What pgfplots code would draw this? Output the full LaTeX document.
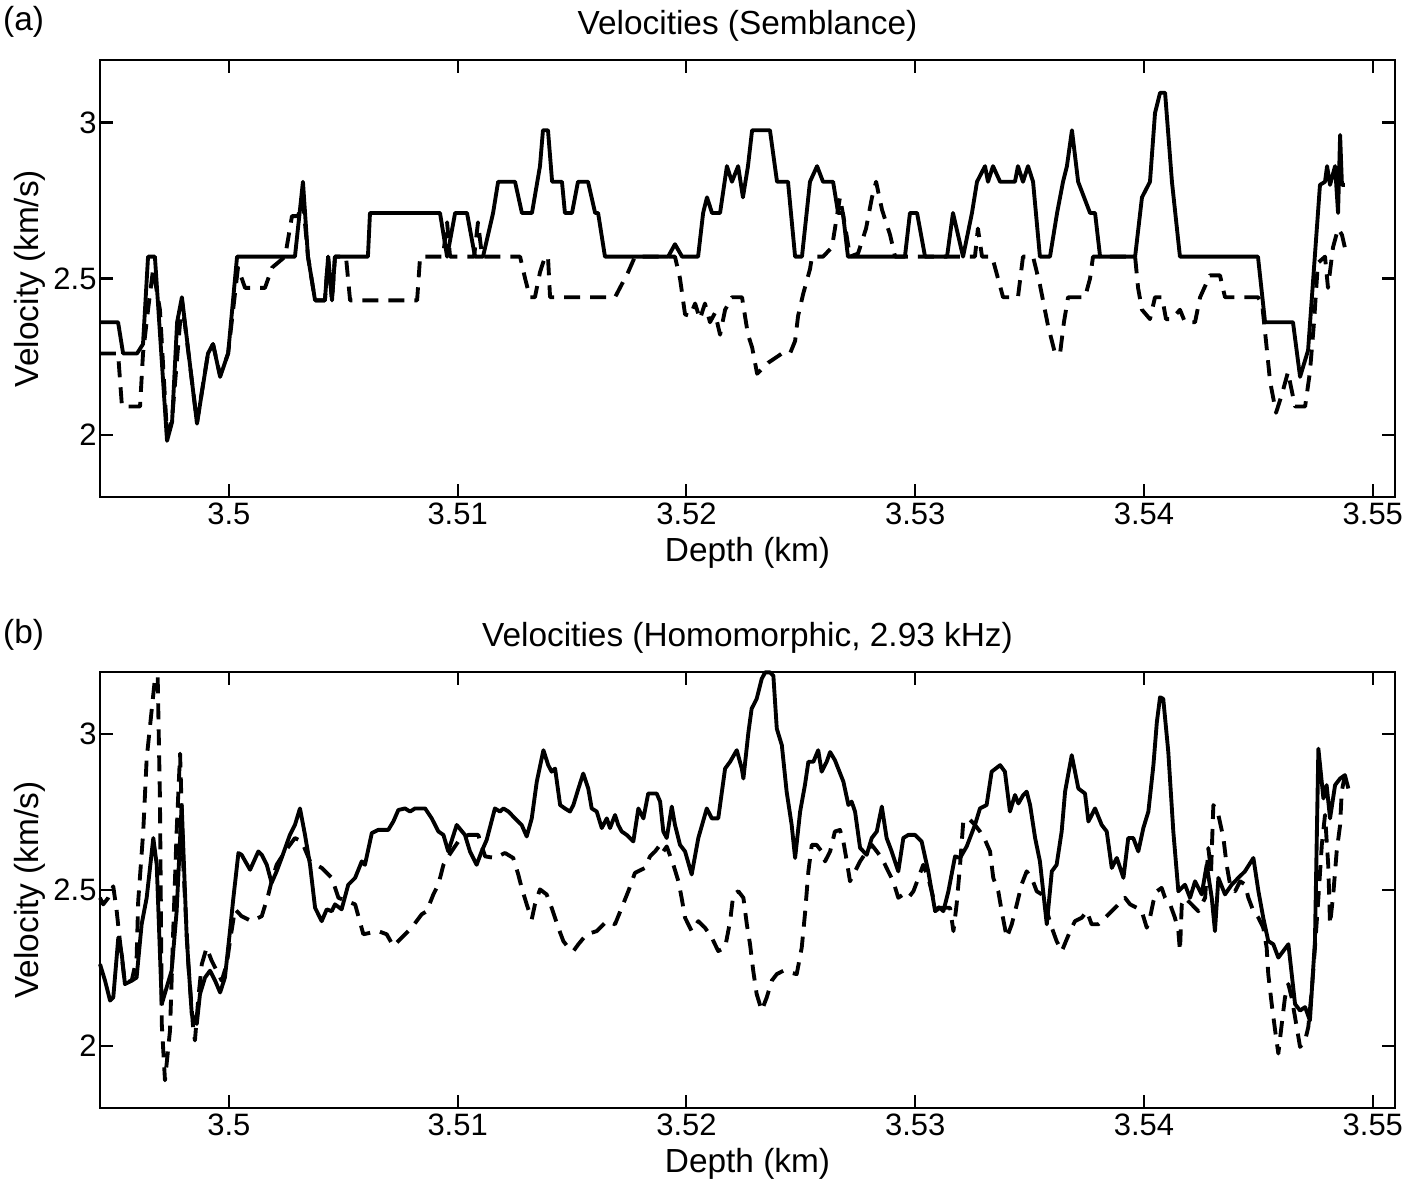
\documentclass[border=0pt]{standalone}
\usepackage{fontspec}
\setmainfont{Liberation Sans}
\usepackage{pgfplots}
\pgfplotsset{compat=1.18}
\begin{document}
\begin{tikzpicture}
\useasboundingbox (0,0) rectangle (14.15cm,-11.91cm);
\pgfplotsset{
  panel/.style={
    scale only axis, width=12.95cm, height=4.37cm, clip=false,
    xmin=3.49437, xmax=3.55097, ymin=1.8, ymax=3.2,
    xtick={3.5,3.51,3.52,3.53,3.54,3.55},
    ytick={2,2.5,3},
    tick align=inside, major tick length=1.3mm,
    axis line style={line width=0.6pt},
    every tick/.style={line width=0.6pt, black},
    xticklabel style={font=\fontsize{8.8}{10}\selectfont, inner ysep=1.5pt,
      /pgf/number format/.cd, fixed, precision=2, assume math mode=true},
    yticklabel style={font=\fontsize{8.8}{10}\selectfont, inner xsep=0.8pt,
      /pgf/number format/.cd, fixed, precision=2, assume math mode=true},
    scaled x ticks=false, scaled y ticks=false,
    xlabel={Depth (km)}, ylabel={Velocity (km/s)},
    label style={font=\fontsize{9.5}{11}\selectfont},
    xlabel style={at={(axis description cs:0.5,-0.127)}, anchor=center},
    ylabel style={at={(axis description cs:-0.054,0.5)}, anchor=center},
    title style={font=\fontsize{9.5}{11}\selectfont, at={(axis description cs:0.5,1)}, anchor=center, yshift=1.3mm},
  },
  solidc/.style={black, mark=none, line width=1.1pt, line join=round},
  dashc/.style={black, mark=none, line width=1.1pt, line join=round, dash pattern=on 1.6mm off 1mm},
}
\begin{axis}[panel, at={(1.00cm,-0.60cm)}, anchor=north west, title={Velocities (Semblance)}]
\addplot[solidc] coordinates {
(3.49437,2.36) (3.49516,2.36) (3.49538,2.26) (3.49599,2.26) (3.49625,2.29) (3.49647,2.57)
(3.49677,2.57) (3.49730,1.98) (3.49752,2.04) (3.49774,2.36) (3.49795,2.44) (3.49861,2.035)
(3.49909,2.26) (3.49931,2.29) (3.49962,2.185) (3.49997,2.26) (3.50036,2.57) (3.50289,2.57)
(3.50324,2.81) (3.50346,2.57) (3.50377,2.43) (3.50420,2.43) (3.50434,2.57) (3.50451,2.43)
(3.50464,2.57) (3.50608,2.57) (3.50617,2.71) (3.50923,2.71) (3.50954,2.57) (3.50989,2.71)
(3.51041,2.71) (3.51076,2.57) (3.51111,2.57) (3.51155,2.71) (3.51177,2.81) (3.51251,2.81)
(3.51281,2.71) (3.51325,2.71) (3.51360,2.86) (3.51373,2.975) (3.51395,2.975) (3.51413,2.81)
(3.51456,2.81) (3.51469,2.71) (3.51500,2.71) (3.51526,2.81) (3.51570,2.81) (3.51601,2.71)
(3.51614,2.71) (3.51644,2.57) (3.51920,2.57) (3.51950,2.61) (3.51981,2.57) (3.52051,2.57)
(3.52073,2.71) (3.52090,2.76) (3.52112,2.71) (3.52147,2.71) (3.52177,2.86) (3.52199,2.81)
(3.52226,2.86) (3.52247,2.76) (3.52269,2.86) (3.52287,2.975) (3.52365,2.975) (3.52396,2.81)
(3.52444,2.81) (3.52475,2.57) (3.52505,2.57) (3.52540,2.81) (3.52571,2.86) (3.52597,2.81)
(3.52641,2.81) (3.52663,2.71) (3.52684,2.71) (3.52706,2.57) (3.52955,2.57) (3.52977,2.71)
(3.53008,2.71) (3.53043,2.57) (3.53139,2.57) (3.53165,2.71) (3.53209,2.57) (3.53248,2.71)
(3.53270,2.81) (3.53305,2.86) (3.53318,2.81) (3.53340,2.86) (3.53371,2.81) (3.53436,2.81)
(3.53449,2.86) (3.53471,2.81) (3.53493,2.86) (3.53515,2.81) (3.53545,2.57) (3.53589,2.57)
(3.53620,2.71) (3.53646,2.81) (3.53663,2.86) (3.53685,2.975) (3.53712,2.81) (3.53764,2.71)
(3.53786,2.71) (3.53808,2.57) (3.53961,2.57) (3.53991,2.76) (3.54026,2.81) (3.54048,3.03)
(3.54070,3.095) (3.54092,3.095) (3.54122,2.81) (3.54157,2.57) (3.54498,2.57) (3.54529,2.36)
(3.54651,2.36) (3.54682,2.185) (3.54717,2.27) (3.54769,2.80) (3.54791,2.81) (3.54800,2.86)
(3.54813,2.80) (3.54835,2.86) (3.54848,2.71) (3.54857,2.96) (3.54865,2.80) (3.54878,2.80)
};
\addplot[dashc] coordinates {
(3.49437,2.26) (3.49516,2.26) (3.49533,2.09) (3.49559,2.09) (3.49612,2.09) (3.49625,2.26)
(3.49647,2.40) (3.49669,2.53) (3.49699,2.40) (3.49730,2.00) (3.49752,2.05) (3.49795,2.43)
(3.49861,2.04) (3.49909,2.26) (3.49931,2.29) (3.49962,2.19) (3.49997,2.26) (3.50040,2.535)
(3.50071,2.47) (3.50158,2.47) (3.50189,2.535) (3.50246,2.57) (3.50276,2.70) (3.50302,2.70)
(3.50324,2.75) (3.50346,2.57) (3.50377,2.43) (3.50420,2.43) (3.50434,2.57) (3.50451,2.43)
(3.50464,2.57) (3.50512,2.57) (3.50530,2.43) (3.50823,2.43) (3.50836,2.57) (3.50936,2.57)
(3.50954,2.68) (3.50967,2.57) (3.51072,2.57) (3.51089,2.68) (3.51107,2.57) (3.51273,2.57)
(3.51295,2.50) (3.51316,2.44) (3.51338,2.44) (3.51360,2.52) (3.51382,2.57) (3.51395,2.57)
(3.51404,2.44) (3.51688,2.44) (3.51745,2.52) (3.51775,2.57) (3.51950,2.57) (3.51972,2.50)
(3.51994,2.385) (3.52016,2.38) (3.52038,2.42) (3.52059,2.37) (3.52081,2.42) (3.52103,2.36)
(3.52125,2.39) (3.52147,2.32) (3.52169,2.40) (3.52199,2.44) (3.52243,2.44) (3.52269,2.32)
(3.52287,2.28) (3.52309,2.195) (3.52357,2.23) (3.52418,2.26) (3.52453,2.26) (3.52475,2.30)
(3.52488,2.38) (3.52510,2.45) (3.52540,2.53) (3.52549,2.57) (3.52597,2.57) (3.52636,2.60)
(3.52671,2.76) (3.52693,2.67) (3.52715,2.57) (3.52750,2.58) (3.52785,2.66) (3.52811,2.76)
(3.52829,2.81) (3.52855,2.72) (3.52890,2.64) (3.52912,2.57) (3.53261,2.57) (3.53274,2.66)
(3.53292,2.57) (3.53336,2.57) (3.53384,2.44) (3.53449,2.44) (3.53471,2.57) (3.53515,2.57)
(3.53545,2.48) (3.53580,2.35) (3.53611,2.26) (3.53633,2.26) (3.53650,2.36) (3.53668,2.44)
(3.53742,2.44) (3.53764,2.50) (3.53777,2.57) (3.53961,2.57) (3.53974,2.47) (3.53991,2.40)
(3.54026,2.37) (3.54048,2.44) (3.54079,2.44) (3.54096,2.37) (3.54122,2.37) (3.54157,2.40)
(3.54179,2.36) (3.54223,2.36) (3.54245,2.44) (3.54288,2.51) (3.54332,2.51) (3.54354,2.44)
(3.54498,2.44) (3.54516,2.42) (3.54533,2.30) (3.54551,2.17) (3.54577,2.07) (3.54603,2.13)
(3.54629,2.20) (3.54660,2.09) (3.54704,2.09) (3.54725,2.20) (3.54743,2.36) (3.54760,2.55)
(3.54791,2.57) (3.54804,2.47) (3.54826,2.60) (3.54848,2.66) (3.54865,2.64) (3.54887,2.57)
};
\node[font=\fontsize{9.5}{11}\selectfont] at (axis description cs:-0.059,1.087) {(a)};
\end{axis}
\begin{axis}[panel, at={(1.00cm,-6.72cm)}, anchor=north west, height=4.36cm, title={Velocities (Homomorphic, 2.93 kHz)}]
\addplot[solidc] coordinates {
(3.49437,2.262) (3.49459,2.209) (3.49481,2.145) (3.49495,2.155) (3.49517,2.347) (3.49532,2.294)
(3.49546,2.198) (3.49576,2.209) (3.49597,2.219) (3.49619,2.390) (3.49641,2.475) (3.49670,2.667)
(3.49685,2.581) (3.49707,2.134) (3.49750,2.241) (3.49772,2.432) (3.49794,2.773) (3.49816,2.347)
(3.49838,2.102) (3.49860,2.070) (3.49874,2.166) (3.49896,2.219) (3.49918,2.241) (3.49940,2.209)
(3.49962,2.171) (3.49983,2.219) (3.50005,2.368) (3.50020,2.475) (3.50042,2.619) (3.50056,2.613)
(3.50093,2.565) (3.50129,2.624) (3.50144,2.613) (3.50166,2.581) (3.50187,2.523) (3.50209,2.560)
(3.50231,2.603) (3.50267,2.677) (3.50289,2.709) (3.50311,2.762) (3.50333,2.677) (3.50355,2.581)
(3.50377,2.443) (3.50406,2.400) (3.50428,2.438) (3.50450,2.432) (3.50464,2.454) (3.50493,2.438)
(3.50522,2.517) (3.50552,2.539) (3.50581,2.592) (3.50595,2.581) (3.50625,2.683) (3.50653,2.693)
(3.50697,2.693) (3.50719,2.720) (3.50741,2.757) (3.50770,2.762) (3.50792,2.752) (3.50814,2.762)
(3.50858,2.762) (3.50887,2.730) (3.50916,2.688) (3.50938,2.677) (3.50959,2.624) (3.50996,2.709)
(3.51032,2.677) (3.51054,2.624) (3.51083,2.581) (3.51105,2.624) (3.51127,2.661) (3.51163,2.762)
(3.51185,2.752) (3.51200,2.762) (3.51222,2.752) (3.51251,2.730) (3.51280,2.709) (3.51302,2.672)
(3.51324,2.730) (3.51346,2.848) (3.51375,2.949) (3.51396,2.901) (3.51411,2.880) (3.51426,2.890)
(3.51448,2.773) (3.51469,2.762) (3.51491,2.752) (3.51506,2.773) (3.51528,2.826) (3.51549,2.874)
(3.51571,2.826) (3.51586,2.762) (3.51608,2.752) (3.51630,2.699) (3.51652,2.730) (3.51666,2.699)
(3.51688,2.741) (3.51702,2.709) (3.51717,2.688) (3.51739,2.677) (3.51768,2.656) (3.51790,2.762)
(3.51812,2.730) (3.51833,2.810) (3.51870,2.810) (3.51885,2.784) (3.51899,2.688) (3.51914,2.667)
(3.51936,2.768) (3.51950,2.709) (3.51972,2.645) (3.51994,2.624) (3.52023,2.550) (3.52052,2.667)
(3.52089,2.762) (3.52111,2.730) (3.52139,2.730) (3.52169,2.890) (3.52191,2.912) (3.52220,2.949)
(3.52242,2.890) (3.52249,2.858) (3.52271,3.007) (3.52285,3.082) (3.52307,3.114) (3.52329,3.178)
(3.52344,3.199) (3.52365,3.199) (3.52380,3.188) (3.52395,3.018) (3.52417,2.965) (3.52438,2.816)
(3.52460,2.709) (3.52475,2.603) (3.52497,2.752) (3.52518,2.837) (3.52533,2.912) (3.52555,2.912)
(3.52576,2.949) (3.52591,2.880) (3.52613,2.912) (3.52628,2.943) (3.52649,2.917) (3.52686,2.848)
(3.52708,2.773) (3.52722,2.784) (3.52737,2.752) (3.52759,2.635) (3.52788,2.613) (3.52810,2.667)
(3.52832,2.688) (3.52854,2.768) (3.52875,2.667) (3.52897,2.624) (3.52926,2.560) (3.52948,2.667)
(3.52970,2.677) (3.52999,2.677) (3.53028,2.656) (3.53057,2.560) (3.53087,2.432) (3.53108,2.443)
(3.53123,2.432) (3.53145,2.496) (3.53174,2.608) (3.53196,2.603) (3.53225,2.640) (3.53261,2.709)
(3.53283,2.762) (3.53312,2.773) (3.53334,2.880) (3.53371,2.901) (3.53392,2.880) (3.53414,2.752)
(3.53436,2.805) (3.53451,2.778) (3.53472,2.805) (3.53487,2.816) (3.53502,2.773) (3.53524,2.667)
(3.53545,2.592) (3.53575,2.390) (3.53597,2.560) (3.53618,2.581) (3.53640,2.688) (3.53655,2.816)
(3.53684,2.933) (3.53713,2.826) (3.53742,2.810) (3.53757,2.720) (3.53786,2.762) (3.53815,2.709)
(3.53837,2.688) (3.53859,2.571) (3.53881,2.603) (3.53910,2.539) (3.53931,2.667) (3.53953,2.667)
(3.53975,2.624) (3.53997,2.699) (3.54019,2.752) (3.54041,2.901) (3.54056,3.039) (3.54070,3.119)
(3.54084,3.114) (3.54106,2.944) (3.54128,2.688) (3.54150,2.496) (3.54179,2.517) (3.54201,2.475)
(3.54223,2.528) (3.54252,2.486) (3.54274,2.581) (3.54296,2.475) (3.54310,2.368) (3.54325,2.539)
(3.54354,2.486) (3.54383,2.517) (3.54412,2.539) (3.54441,2.560) (3.54478,2.603) (3.54500,2.496)
(3.54521,2.411) (3.54543,2.336) (3.54565,2.326) (3.54587,2.283) (3.54631,2.326) (3.54660,2.134)
(3.54682,2.113) (3.54704,2.124) (3.54725,2.081) (3.54747,2.336) (3.54762,2.954) (3.54784,2.794)
(3.54798,2.837) (3.54813,2.730) (3.54835,2.837) (3.54857,2.858) (3.54878,2.869) (3.54893,2.826)
};
\addplot[dashc] coordinates {
(3.49437,2.475) (3.49451,2.454) (3.49473,2.475) (3.49495,2.512) (3.49510,2.432) (3.49524,2.336)
(3.49546,2.20) (3.49576,2.21) (3.49597,2.28) (3.49604,2.464) (3.49626,2.688) (3.49641,2.922)
(3.49656,3.029) (3.49677,3.178) (3.49689,3.188) (3.49699,2.794) (3.49704,2.368) (3.49707,2.070)
(3.49721,1.889) (3.49743,2.049) (3.49757,2.368) (3.49772,2.688) (3.49787,2.938) (3.49801,2.581)
(3.49823,2.262) (3.49845,2.049) (3.49852,2.017) (3.49867,2.155) (3.49882,2.262) (3.49903,2.315)
(3.49925,2.273) (3.49947,2.241) (3.49969,2.209) (3.49991,2.262) (3.50005,2.336) (3.50027,2.438)
(3.50056,2.416) (3.50100,2.400) (3.50144,2.416) (3.50173,2.486) (3.50187,2.528) (3.50209,2.581)
(3.50246,2.624) (3.50289,2.667) (3.50319,2.656) (3.50355,2.592) (3.50406,2.571) (3.50450,2.539)
(3.50479,2.475) (3.50552,2.454) (3.50588,2.358) (3.50653,2.368) (3.50690,2.358) (3.50719,2.320)
(3.50756,2.347) (3.50799,2.379) (3.50843,2.422) (3.50865,2.432) (3.50894,2.486) (3.50916,2.518)
(3.50938,2.581) (3.50959,2.608) (3.51003,2.656) (3.51047,2.677) (3.51090,2.677) (3.51120,2.608)
(3.51163,2.603) (3.51207,2.619) (3.51243,2.603) (3.51265,2.550) (3.51280,2.507) (3.51302,2.454)
(3.51324,2.406) (3.51338,2.454) (3.51360,2.502) (3.51389,2.486) (3.51411,2.443) (3.51440,2.379)
(3.51462,2.336) (3.51484,2.315) (3.51506,2.304) (3.51528,2.326) (3.51564,2.358) (3.51608,2.368)
(3.51652,2.400) (3.51688,2.390) (3.51717,2.443) (3.51746,2.496) (3.51775,2.555) (3.51819,2.571)
(3.51841,2.608) (3.51863,2.624) (3.51885,2.645) (3.51899,2.624) (3.51914,2.640) (3.51943,2.581)
(3.51965,2.528) (3.51979,2.475) (3.51994,2.411) (3.52023,2.368) (3.52052,2.400) (3.52081,2.379)
(3.52111,2.347) (3.52139,2.304) (3.52169,2.315) (3.52191,2.400) (3.52205,2.486) (3.52227,2.496)
(3.52249,2.475) (3.52264,2.390) (3.52278,2.326) (3.52292,2.241) (3.52307,2.166) (3.52329,2.113)
(3.52351,2.155) (3.52373,2.209) (3.52395,2.230) (3.52424,2.241) (3.52453,2.235) (3.52482,2.230)
(3.52504,2.315) (3.52518,2.422) (3.52533,2.560) (3.52548,2.645) (3.52569,2.645) (3.52591,2.624)
(3.52606,2.592) (3.52628,2.624) (3.52649,2.688) (3.52671,2.693) (3.52686,2.656) (3.52701,2.592)
(3.52715,2.528) (3.52737,2.560) (3.52759,2.592) (3.52788,2.624) (3.52810,2.645) (3.52832,2.624)
(3.52854,2.603) (3.52882,2.560) (3.52904,2.528) (3.52926,2.475) (3.52948,2.486) (3.52970,2.475)
(3.52992,2.496) (3.53014,2.539) (3.53035,2.581) (3.53057,2.539) (3.53079,2.475) (3.53101,2.443)
(3.53152,2.443) (3.53167,2.368) (3.53181,2.454) (3.53196,2.581) (3.53210,2.720) (3.53232,2.731)
(3.53261,2.709) (3.53283,2.688) (3.53305,2.661) (3.53327,2.624) (3.53341,2.539) (3.53363,2.496)
(3.53378,2.432) (3.53400,2.347) (3.53422,2.390) (3.53444,2.454) (3.53465,2.518) (3.53487,2.560)
(3.53509,2.539) (3.53531,2.496) (3.53553,2.486) (3.53575,2.432) (3.53597,2.379) (3.53618,2.336)
(3.53640,2.304) (3.53647,2.315) (3.53677,2.368) (3.53698,2.400) (3.53728,2.411) (3.53750,2.432)
(3.53771,2.390) (3.53800,2.390) (3.53830,2.411) (3.53859,2.432) (3.53888,2.454) (3.53917,2.475)
(3.53939,2.454) (3.53968,2.443) (3.53990,2.432) (3.54012,2.379) (3.54026,2.411) (3.54041,2.464)
(3.54056,2.496) (3.54077,2.507) (3.54092,2.475) (3.54114,2.454) (3.54135,2.411) (3.54150,2.368)
(3.54157,2.304) (3.54165,2.454) (3.54179,2.475) (3.54208,2.454) (3.54237,2.432) (3.54267,2.475)
(3.54281,2.635) (3.54293,2.560) (3.54303,2.773) (3.54325,2.741) (3.54347,2.667) (3.54361,2.581)
(3.54376,2.518) (3.54398,2.496) (3.54420,2.528) (3.54441,2.518) (3.54456,2.475) (3.54478,2.432)
(3.54500,2.411) (3.54521,2.379) (3.54536,2.315) (3.54543,2.230) (3.54558,2.134) (3.54573,2.049)
(3.54587,1.975) (3.54602,2.070) (3.54616,2.155) (3.54631,2.198) (3.54645,2.155) (3.54660,2.092)
(3.54682,1.996) (3.54704,2.017) (3.54718,2.060) (3.54733,2.177) (3.54747,2.315) (3.54762,2.475)
(3.54777,2.645) (3.54791,2.741) (3.54805,2.581) (3.54813,2.390) (3.54827,2.486) (3.54842,2.624)
(3.54857,2.709) (3.54864,2.816) (3.54878,2.869)
};
\node[font=\fontsize{9.5}{11}\selectfont] at (axis description cs:-0.059,1.085) {(b)};
\end{axis}
\end{tikzpicture}
\end{document}
